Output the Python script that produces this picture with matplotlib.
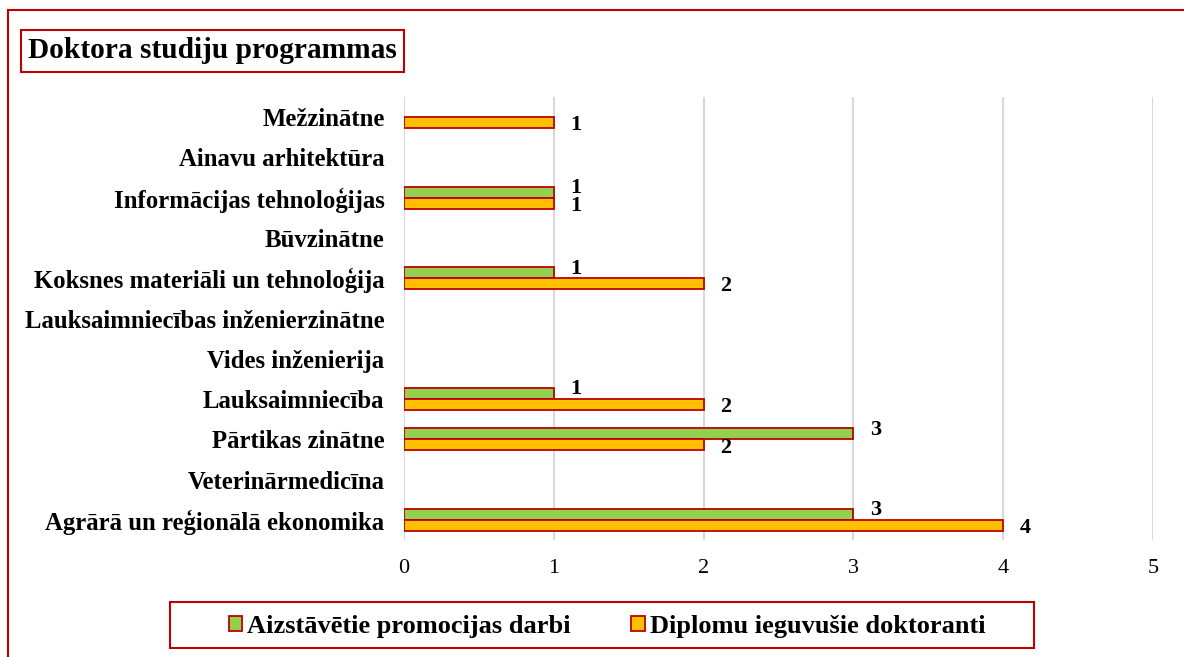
import matplotlib
matplotlib.use("Agg")
import matplotlib.pyplot as plt
from matplotlib.patches import Rectangle
import numpy as np

categories = ["Agrārā un reģionālā ekonomika", "Veterinārmedicīna", "Pārtikas zinātne",
              "Lauksaimniecība", "Vides inženierija", "Lauksaimniecības inženierzinātne",
              "Koksnes materiāli un tehnoloģija", "Būvzinātne", "Informācijas tehnoloģijas",
              "Ainavu arhitektūra", "Mežzinātne"]
aizstavetie = [3, 0, 3, 1, 0, 0, 1, 0, 1, 0, 0]
diplomu = [4, 0, 2, 2, 0, 0, 2, 0, 1, 0, 1]
series_names = ["Aizstāvētie promocijas darbi", "Diplomu ieguvušie doktoranti"]
xticks = [0, 1, 2, 3, 4, 5]
title = "Doktora studiju programmas"

GREEN = "#92D050"
ORANGE = "#FFC000"
EDGE = "#C00000"
SERIF = ["Liberation Serif", "DejaVu Serif"]

fig = plt.figure(figsize=(11.84, 6.57), dpi=100)
W, H = 1184, 657

def fx(px):
    return px / W

def fy(py):
    return 1 - py / H

# outer border
fig.patches.append(Rectangle((fx(8), fy(700)), fx(1300), fy(10) - fy(700), transform=fig.transFigure,
                             fill=False, edgecolor=EDGE, linewidth=1.5, clip_on=False))

ax = fig.add_axes([fx(404), fy(540), fx(1153) - fx(404), fy(97) - fy(540)])
y = np.arange(len(categories))
h = 0.27
edges_a = [EDGE if v > 0 else "none" for v in aizstavetie]
edges_d = [EDGE if v > 0 else "none" for v in diplomu]
ax.barh(y + h / 2, aizstavetie, height=h, color=GREEN, edgecolor=edges_a, linewidth=1.3, zorder=3)
ax.barh(y - h / 2, diplomu, height=h, color=ORANGE, edgecolor=edges_d, linewidth=1.3, zorder=3)

for yi, v in zip(y, aizstavetie):
    if v > 0:
        ax.annotate(str(v), (v, yi + h / 2), xytext=(12, 3), textcoords="offset points",
                    ha="left", va="center", fontsize=16, fontweight="bold", family=SERIF)
for yi, v in zip(y, diplomu):
    if v > 0:
        ax.annotate(str(v), (v, yi - h / 2), xytext=(12, -2), textcoords="offset points",
                    ha="left", va="center", fontsize=16, fontweight="bold", family=SERIF)

ax.set_xlim(0, 5)
ax.set_ylim(-0.5, len(categories) - 0.5)
ax.set_xticks(xticks)
ax.set_xticklabels([str(t) for t in xticks], family=SERIF, fontsize=16)
ax.set_yticks(y)
ax.set_yticklabels(categories, family=SERIF, fontsize=17.8, fontweight="bold")
ax.tick_params(axis="both", length=0)
ax.tick_params(axis="y", pad=14)
ax.tick_params(axis="x", pad=14)
ax.grid(axis="x", color="#D9D9D9", linewidth=1.5, zorder=0)
for s in ax.spines.values():
    s.set_visible(False)

# title with box
fig.text(fx(28), fy(51), title, ha="left", va="center", fontsize=21.2, fontweight="bold",
         family=SERIF,
         bbox=dict(boxstyle="square,pad=0.25", facecolor="white", edgecolor=EDGE, linewidth=1.5))

# legend
handles = [Rectangle((0, 0), 1, 1, facecolor=GREEN, edgecolor=EDGE, linewidth=1.3),
           Rectangle((0, 0), 1, 1, facecolor=ORANGE, edgecolor=EDGE, linewidth=1.3)]
fig.patches.append(Rectangle((fx(170), fy(648)), fx(1034) - fx(170), fy(602) - fy(648),
                             transform=fig.transFigure, fill=False, edgecolor=EDGE, linewidth=1.5))
leg = fig.legend(handles, series_names, loc="center", bbox_to_anchor=(fx(607), fy(626)),
                 ncol=2, frameon=False, handlelength=0.5, handleheight=0.5,
                 handletextpad=0.2, columnspacing=2.3,
                 prop=dict(family=SERIF, weight="bold", size=19))

fig.savefig("out.png", dpi=100)
